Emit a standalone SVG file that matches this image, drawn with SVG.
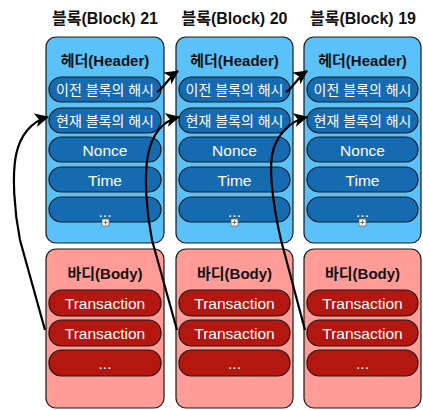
<svg xmlns="http://www.w3.org/2000/svg" width="423" height="410" viewBox="0 0 423 410">
<defs>
<style>
.title{font-family:"Liberation Sans","Noto Sans CJK KR",sans-serif;font-weight:bold;font-size:16px;fill:#111;text-anchor:middle}
.sec{font-family:"Liberation Sans","Noto Sans CJK KR",sans-serif;font-weight:bold;font-size:15px;fill:#111;text-anchor:middle}
.pt{font-family:"Liberation Sans","Noto Sans CJK KR",sans-serif;font-size:15.5px;fill:#fff;text-anchor:middle}
.kt{font-family:"Liberation Sans","Noto Sans CJK KR",sans-serif;font-size:14px;fill:#fff;text-anchor:middle}
.hdr{fill:#5BC1F9;stroke:#1a1a1a;stroke-width:1.2}
.hp{fill:#166AB0;stroke:#1a1a1a;stroke-width:1.2}
.bdy{fill:#FF9C97;stroke:#1a1a1a;stroke-width:1.2}
.bp{fill:#B3170F;stroke:#1a1a1a;stroke-width:1.2}
.icon{fill:#fff;stroke:#666;stroke-width:0.8}
.conn{fill:none;stroke:#000;stroke-width:2.2;marker-end:url(#ah)}
</style>
<marker id="ah" markerUnits="userSpaceOnUse" markerWidth="16" markerHeight="14" refX="13" refY="7" orient="auto">
<path d="M0,0 L14,7 L0,14 L3.5,7 Z" fill="#000"/>
</marker>
</defs>

<g id="block21">
<text class="title" x="105" y="24">블록(Block) 21</text>
<g id="header21">
<rect class="hdr" x="46" y="37" width="118" height="206" rx="10"/>
<text class="sec" x="105" y="65.5">헤더(Header)</text>
<rect class="hp" x="49" y="77" width="112" height="25" rx="12.5"/>
<text class="kt" x="105" y="94.5">이전 블록의 해시</text>
<rect class="hp" x="49" y="108" width="112" height="25" rx="12.5"/>
<text class="kt" x="105" y="125.5">현재 블록의 해시</text>
<rect class="hp" x="49" y="137" width="112" height="25" rx="12.5"/>
<text class="pt" x="105" y="155.5">Nonce</text>
<rect class="hp" x="49" y="167" width="112" height="25" rx="12.5"/>
<text class="pt" x="105" y="185.5">Time</text>
<rect class="hp" x="49" y="197" width="112" height="25" rx="12.5"/>
<text class="pt" x="105" y="217">...</text>
<rect class="icon" x="102" y="219" width="7" height="7"/>
<path d="M105.5,220.5 V224.5 M103.5,222.5 H107.5" stroke="#555" stroke-width="0.8"/>
</g>
<g id="body21">
<rect class="bdy" x="46" y="249" width="118" height="159" rx="10"/>
<text class="sec" x="105" y="278.5">바디(Body)</text>
<rect class="bp" x="49" y="290" width="112" height="26" rx="12.5"/>
<text class="pt" x="105" y="309">Transaction</text>
<rect class="bp" x="49" y="320" width="112" height="26" rx="12.5"/>
<text class="pt" x="105" y="339">Transaction</text>
<rect class="bp" x="49" y="350" width="112" height="26" rx="12.5"/>
<text class="pt" x="105" y="369">...</text>
</g>
</g>

<g id="block20">
<text class="title" x="234.5" y="24">블록(Block) 20</text>
<g id="header20">
<rect class="hdr" x="176" y="37" width="117" height="206" rx="10"/>
<text class="sec" x="234.5" y="65.5">헤더(Header)</text>
<rect class="hp" x="179" y="77" width="111" height="25" rx="12.5"/>
<text class="kt" x="234.5" y="94.5">이전 블록의 해시</text>
<rect class="hp" x="179" y="108" width="111" height="25" rx="12.5"/>
<text class="kt" x="234.5" y="125.5">현재 블록의 해시</text>
<rect class="hp" x="179" y="137" width="111" height="25" rx="12.5"/>
<text class="pt" x="234.5" y="155.5">Nonce</text>
<rect class="hp" x="179" y="167" width="111" height="25" rx="12.5"/>
<text class="pt" x="234.5" y="185.5">Time</text>
<rect class="hp" x="179" y="197" width="111" height="25" rx="12.5"/>
<text class="pt" x="234.5" y="217">...</text>
<rect class="icon" x="231" y="219" width="7" height="7"/>
<path d="M234.5,220.5 V224.5 M232.5,222.5 H236.5" stroke="#555" stroke-width="0.8"/>
</g>
<g id="body20">
<rect class="bdy" x="176" y="249" width="117" height="159" rx="10"/>
<text class="sec" x="234.5" y="278.5">바디(Body)</text>
<rect class="bp" x="179" y="290" width="111" height="26" rx="12.5"/>
<text class="pt" x="234.5" y="309">Transaction</text>
<rect class="bp" x="179" y="320" width="111" height="26" rx="12.5"/>
<text class="pt" x="234.5" y="339">Transaction</text>
<rect class="bp" x="179" y="350" width="111" height="26" rx="12.5"/>
<text class="pt" x="234.5" y="369">...</text>
</g>
</g>

<g id="block19">
<text class="title" x="363" y="24">블록(Block) 19</text>
<g id="header19">
<rect class="hdr" x="304" y="37" width="117" height="206" rx="10"/>
<text class="sec" x="362.5" y="65.5">헤더(Header)</text>
<rect class="hp" x="307" y="77" width="111" height="25" rx="12.5"/>
<text class="kt" x="362.5" y="94.5">이전 블록의 해시</text>
<rect class="hp" x="307" y="108" width="111" height="25" rx="12.5"/>
<text class="kt" x="362.5" y="125.5">현재 블록의 해시</text>
<rect class="hp" x="307" y="137" width="111" height="25" rx="12.5"/>
<text class="pt" x="362.5" y="155.5">Nonce</text>
<rect class="hp" x="307" y="167" width="111" height="25" rx="12.5"/>
<text class="pt" x="362.5" y="185.5">Time</text>
<rect class="hp" x="307" y="197" width="111" height="25" rx="12.5"/>
<text class="pt" x="362.5" y="217">...</text>
<rect class="icon" x="359" y="219" width="7" height="7"/>
<path d="M362.5,220.5 V224.5 M360.5,222.5 H364.5" stroke="#555" stroke-width="0.8"/>
</g>
<g id="body19">
<rect class="bdy" x="304" y="249" width="117" height="159" rx="10"/>
<text class="sec" x="362.5" y="278.5">바디(Body)</text>
<rect class="bp" x="307" y="290" width="111" height="26" rx="12.5"/>
<text class="pt" x="362.5" y="309">Transaction</text>
<rect class="bp" x="307" y="320" width="111" height="26" rx="12.5"/>
<text class="pt" x="362.5" y="339">Transaction</text>
<rect class="bp" x="307" y="350" width="111" height="26" rx="12.5"/>
<text class="pt" x="362.5" y="369">...</text>
</g>
</g>

<g id="connectors">
<path class="conn" d="M157,92 C164,88 168,78 178,71"/>
<path class="conn" d="M286,92 C293,88 297,78 307,71"/>
<path class="conn" d="M45,330 L20,240 C14,210 12,175 16,155 C20,135 32,121 48,117"/>
<path class="conn" d="M177,330 L152,240 C146,210 144,175 148,155 C152,135 162,121 179,117"/>
<path class="conn" d="M305,330 L281,240 C274,210 269,175 272,155 C276,135 290,121 307,117"/>
</g>
</svg>
